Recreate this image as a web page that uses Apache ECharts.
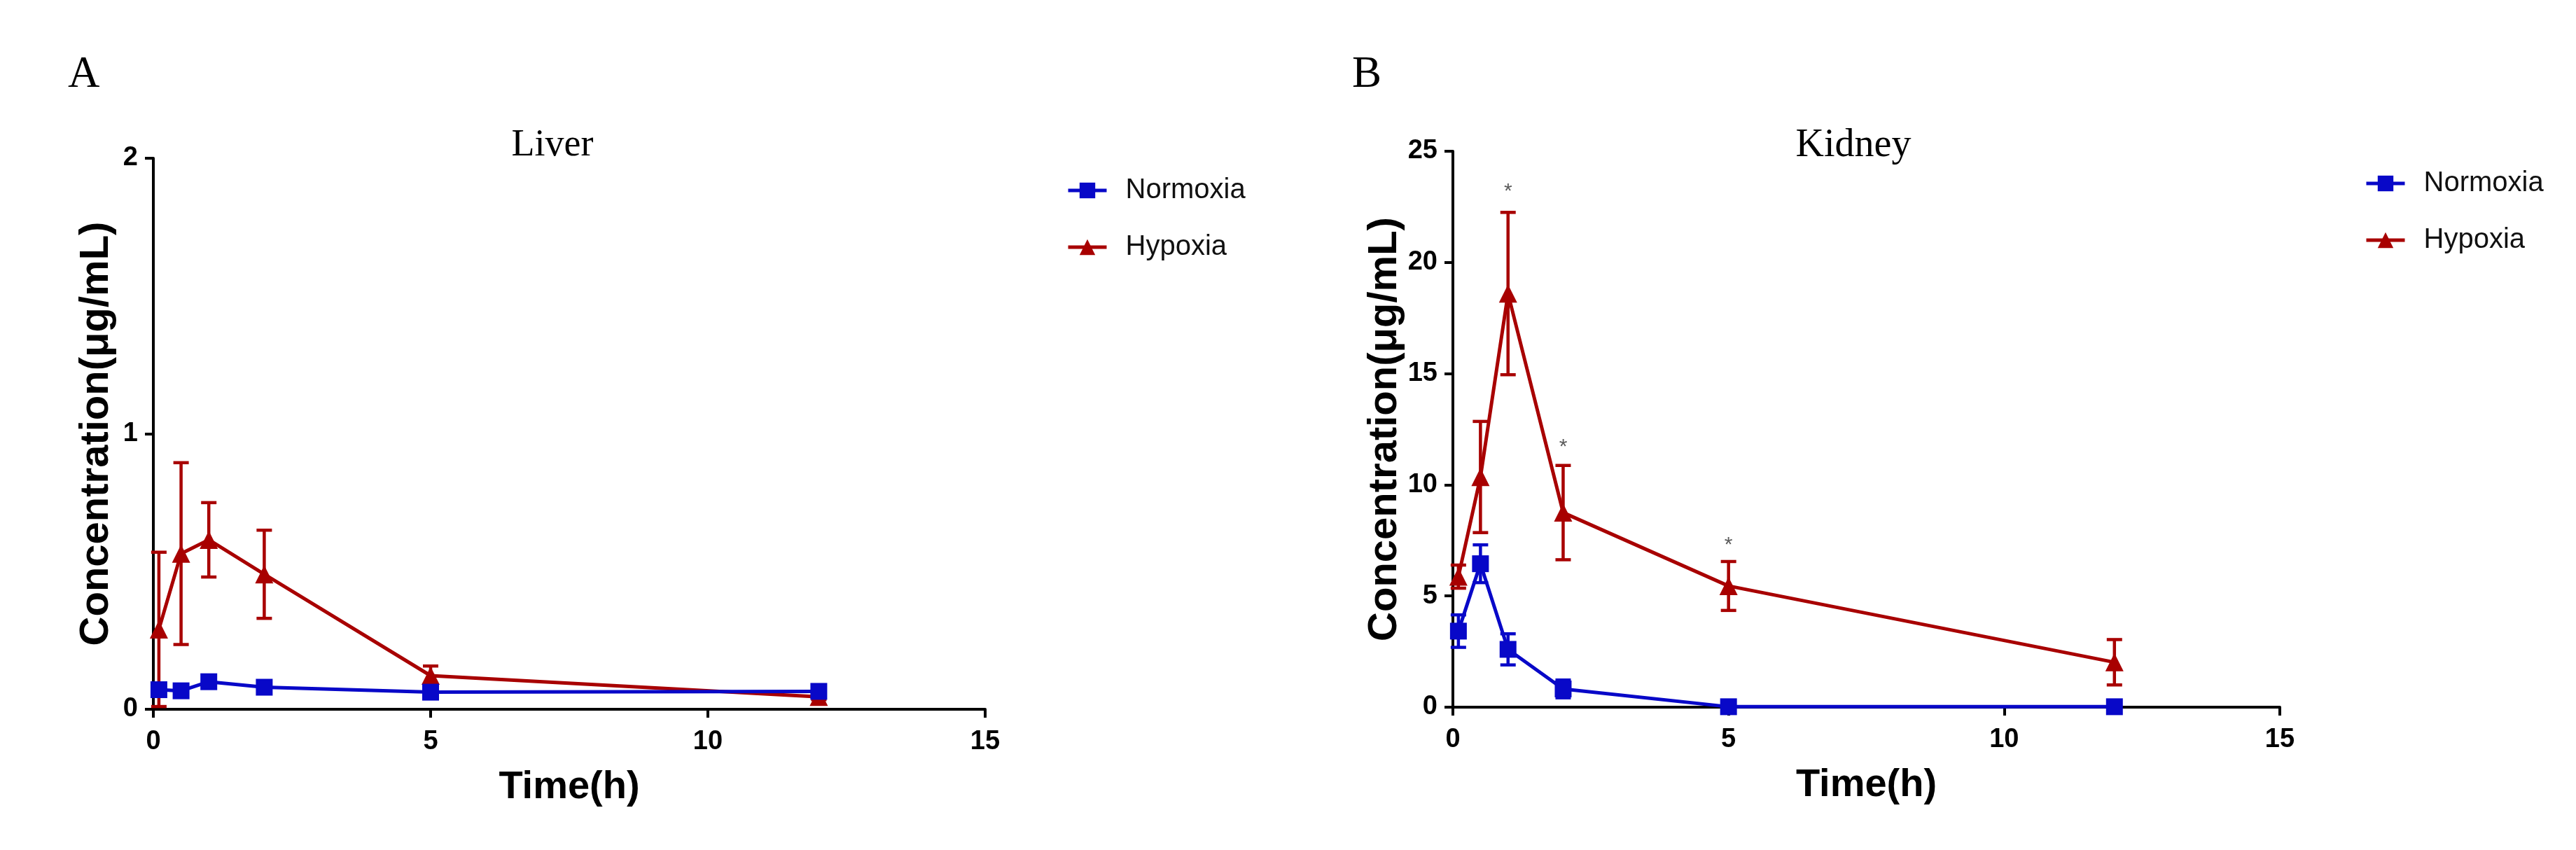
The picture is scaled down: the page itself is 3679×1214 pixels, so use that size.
<!DOCTYPE html>
<html>
<head>
<meta charset="utf-8">
<title>Liver / Kidney concentration</title>
<script src="https://cdn.jsdelivr.net/npm/echarts@6.0.0/dist/echarts.min.js"></script>
<style>
    html, body {margin: 0; padding: 0; background: #fff;}
    #chart {width: 3679px; height: 1214px;}
</style>
</head>
<body>
<div id="chart"></div>
<script>
// sampling times (h)
var aTime = [0.1, 0.5, 1, 2, 5, 12];

// liver, mean and SD
var aLiverNormoxia = [0.071, 0.067, 0.10, 0.08, 0.062, 0.065];
var aLiverNormoxiaSD = [0.01, 0.01, 0.01, 0.01, 0.01, 0.01];
var aLiverHypoxia = [0.29, 0.565, 0.615, 0.49, 0.122, 0.045];
var aLiverHypoxiaSD = [0.28, 0.33, 0.135, 0.16, 0.035, 0.01];

// kidney, mean and SD
var aKidneyNormoxia = [3.42, 6.45, 2.6, 0.82, 0.02, 0.02];
var aKidneyNormoxiaSD = [0.73, 0.85, 0.7, 0.4, 0.02, 0.02];
var aKidneyHypoxia = [5.87, 10.35, 18.6, 8.75, 5.45, 2.02];
var aKidneyHypoxiaSD = [0.52, 2.5, 3.65, 2.12, 1.1, 1.02];

// significance marks on kidney
var aStarTime = [1, 2, 5];
var aStarValue = [23.4, 11.9, 7.5];

var aXTicks = [0, 15, 5];          // min, max, interval
var aLiverYTicks = [0, 2, 1];
var aKidneyYTicks = [0, 25, 5];

var sBlue = '#0808c8';
var sRed = '#a80000';
var sSans = '"Liberation Sans", Arial, sans-serif';
var sSerif = '"Liberation Serif", "Times New Roman", serif';

function Pairs(aX, aY) {
    var aOut = [];
    for (var i = 0; i < aX.length; i++) {
        aOut.push([aX[i], aY[i]]);
    }
    return aOut
}

function Bars(aX, aMean, aSD) {
    var aOut = [];
    for (var i = 0; i < aX.length; i++) {
        aOut.push([aX[i], aMean[i] - aSD[i], aMean[i] + aSD[i]]);
    }
    return aOut
}

// error bar: vertical line with two caps
function MakeErrorRender(sColor) {
    return function (params, api) {
        var pLow = api.coord([api.value(0), api.value(1)]);
        var pHigh = api.coord([api.value(0), api.value(2)]);
        var iHalf = 11;
        var jStyle = {stroke: sColor, lineWidth: 4.5};
        return {
            type: 'group',
            children: [
                {type: 'line', shape: {x1: pLow[0], y1: pLow[1], x2: pHigh[0], y2: pHigh[1]}, style: jStyle},
                {type: 'line', shape: {x1: pHigh[0] - iHalf, y1: pHigh[1], x2: pHigh[0] + iHalf, y2: pHigh[1]}, style: jStyle},
                {type: 'line', shape: {x1: pLow[0] - iHalf, y1: pLow[1], x2: pLow[0] + iHalf, y2: pLow[1]}, style: jStyle}
            ]
        };
    }
}

function XAxis(iGrid) {
    return {
        type: 'value', gridIndex: iGrid,
        min: aXTicks[0], max: aXTicks[1], interval: aXTicks[2],
        name: 'Time(h)', nameLocation: 'middle', nameGap: 84,
        nameTextStyle: {fontFamily: sSans, fontWeight: 'bold', fontSize: 56, color: '#000'},
        axisLine: {show: true, onZero: false, lineStyle: {color: '#000', width: 4}},
        axisTick: {show: true, inside: false, length: 12, lineStyle: {color: '#000', width: 4}},
        axisLabel: {margin: 28, fontFamily: sSans, fontWeight: 'bold', fontSize: 38, color: '#000'},
        splitLine: {show: false}
    }
}

function YAxis(iGrid, aTicks) {
    return {
        type: 'value', gridIndex: iGrid,
        min: aTicks[0], max: aTicks[1], interval: aTicks[2],
        name: 'Concentration(μg/mL)', nameLocation: 'middle', nameGap: 52,
        nameTextStyle: {fontFamily: sSans, fontWeight: 'bold', fontSize: 58, color: '#000'},
        axisLine: {show: true, onZero: false, lineStyle: {color: '#000', width: 4}},
        axisTick: {show: true, inside: false, length: 12, lineStyle: {color: '#000', width: 4}},
        axisLabel: {margin: 22, fontFamily: sSans, fontWeight: 'bold', fontSize: 38, color: '#000'},
        splitLine: {show: false}
    }
}

function Legend(iLeft, iTop) {
    return {
        orient: 'vertical', left: iLeft, top: iTop,
        data: ['Normoxia', 'Hypoxia'],
        itemWidth: 55, itemHeight: 28, itemGap: 41,
        lineStyle: {width: 5},
        textStyle: {fontFamily: sSans, fontSize: 40, color: '#111', padding: [0, 0, 0, 22]}
    }
}

function LineSeries(sName, iGrid, aData, sColor, sSymbol, iSize, iZ) {
    return {
        name: sName, type: 'line', xAxisIndex: iGrid, yAxisIndex: iGrid,
        data: aData, symbol: sSymbol, symbolSize: iSize, showSymbol: true, z: iZ,
        lineStyle: {color: sColor, width: 5},
        itemStyle: {color: sColor}
    }
}

function ErrorSeries(sName, iGrid, aData, sColor, iZ) {
    return {
        name: sName, type: 'custom', xAxisIndex: iGrid, yAxisIndex: iGrid,
        data: aData, encode: {x: 0, y: [1, 2]}, z: iZ,
        renderItem: MakeErrorRender(sColor)
    }
}

function GetOption() {
    return {
        animation: false,
        backgroundColor: '#fff',
        grid: [
            {left: 219, top: 226, width: 1188, height: 787, containLabel: false, outerBoundsMode: 'none'},
            {left: 2075, top: 216, width: 1181, height: 794, containLabel: false, outerBoundsMode: 'none'}
        ],
        xAxis: [XAxis(0), XAxis(1)],
        yAxis: [YAxis(0, aLiverYTicks), YAxis(1, aKidneyYTicks)],
        legend: [Legend(1518, 247), Legend(3372, 237)],
        graphic: [
            {type: 'text', left: 97, top: 76, style: {text: 'A', font: '63px ' + sSerif, fill: '#000'}},
            {type: 'text', left: 1931, top: 76, style: {text: 'B', font: '63px ' + sSerif, fill: '#000'}},
            {type: 'text', x: 789, y: 208, style: {text: 'Liver', font: '54px ' + sSerif, fill: '#000', align: 'center', verticalAlign: 'middle'}},
            {type: 'text', x: 2647, y: 208, style: {text: 'Kidney', font: '56px ' + sSerif, fill: '#000', align: 'center', verticalAlign: 'middle'}}
        ],
        series: [
            ErrorSeries('Hypoxia SD', 0, Bars(aTime, aLiverHypoxia, aLiverHypoxiaSD), sRed, 2),
            LineSeries('Hypoxia', 0, Pairs(aTime, aLiverHypoxia), sRed, 'triangle', 26, 3),
            ErrorSeries('Normoxia SD', 0, Bars(aTime, aLiverNormoxia, aLiverNormoxiaSD), sBlue, 4),
            LineSeries('Normoxia', 0, Pairs(aTime, aLiverNormoxia), sBlue, 'rect', 24, 5),

            ErrorSeries('Hypoxia SD', 1, Bars(aTime, aKidneyHypoxia, aKidneyHypoxiaSD), sRed, 2),
            LineSeries('Hypoxia', 1, Pairs(aTime, aKidneyHypoxia), sRed, 'triangle', 26, 3),
            ErrorSeries('Normoxia SD', 1, Bars(aTime, aKidneyNormoxia, aKidneyNormoxiaSD), sBlue, 4),
            LineSeries('Normoxia', 1, Pairs(aTime, aKidneyNormoxia), sBlue, 'rect', 24, 5),
            {
                name: 'p<0.05', type: 'scatter', xAxisIndex: 1, yAxisIndex: 1,
                data: Pairs(aStarTime, aStarValue), symbolSize: 2, z: 6,
                itemStyle: {color: 'rgba(0,0,0,0)'},
                label: {show: true, position: 'inside', formatter: '*', offset: [0, 7],
                    fontFamily: sSans, fontSize: 30, color: '#333'}
            }
        ]
    }
}

function SetOption(jOption, sTagID) {
    var objectDom = document.getElementById(sTagID);
    var myChart = echarts.init(objectDom);
    myChart.setOption(jOption);
    return myChart
}

SetOption(GetOption(), 'chart');
</script>
</body>
</html>
